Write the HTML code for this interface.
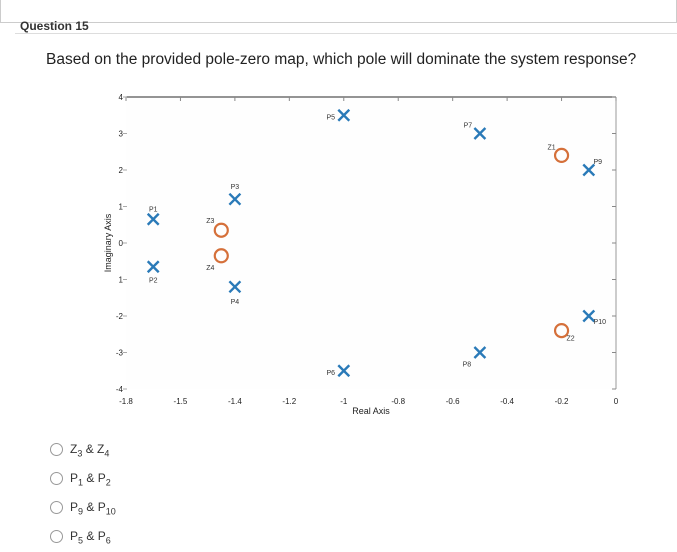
<!DOCTYPE html>
<html><head><meta charset="utf-8"><style>
body{margin:0;width:677px;height:552px;background:#fff;font-family:"Liberation Sans",sans-serif;position:relative;overflow:hidden}
.abs{position:absolute}
.opt{position:absolute;left:50px;font-size:12px;color:#333}
.opt .r{display:inline-block;width:11px;height:11px;border:1px solid #999;border-radius:50%;vertical-align:middle;margin-right:7px}
sub{font-size:9px}
</style></head><body>
<div class="abs" style="left:0;top:-2px;width:675px;height:24px;border:1px solid #ccc;border-top:none"></div>
<div class="abs" style="left:20px;top:19px;font-size:12px;font-weight:bold;color:#333">Question 15</div>
<div class="abs" style="left:15px;top:33px;width:662px;border-top:1px solid #ddd"></div>
<div class="abs" style="left:46px;top:51px;font-size:15.5px;color:#222">Based on the provided pole-zero map, which pole will dominate the system response?</div>
<svg class="abs" style="left:0;top:0" width="677" height="430" id="chart"></svg>
<div class="opt" style="top:442px"><span class="r"></span>Z<sub>3</sub> &amp; Z<sub>4</sub></div>
<div class="opt" style="top:471px"><span class="r"></span>P<sub>1</sub> &amp; P<sub>2</sub></div>
<div class="opt" style="top:500px"><span class="r"></span>P<sub>9</sub> &amp; P<sub>10</sub></div>
<div class="opt" style="top:529px"><span class="r"></span>P<sub>5</sub> &amp; P<sub>6</sub></div>
<script>
const xTicks=[-1.8,-1.6,-1.4,-1.2,-1,-0.8,-0.6,-0.4,-0.2,0];
const xTickLabels=["-1.8","-1.5","-1.4","-1.2","-1","-0.8","-0.6","-0.4","-0.2","0"];
const yTicks=[4,3,2,1,0,-1,-2,-3,-4];
const yTickLabels=["4","3","2","1","0","1","-2","-3","-4"];
const poleNames=["P1","P2","P3","P4","P5","P6","P7","P8","P9","P10"];
const poleRe=[-1.7,-1.7,-1.4,-1.4,-1,-1,-0.5,-0.5,-0.1,-0.1];
const poleIm=[0.65,-0.65,1.2,-1.2,3.5,-3.5,3,-3,2,-2];
const zeroNames=["Z1","Z2","Z3","Z4"];
const zeroRe=[-0.2,-0.2,-1.45,-1.45];
const zeroIm=[2.4,-2.4,0.35,-0.35];
const X=v=>126+(v+1.8)/1.8*490;
const Y=v=>243-v*36.5;
const svg=document.getElementById('chart');
const NS='http://www.w3.org/2000/svg';
function mk(t,a){const e=document.createElementNS(NS,t);for(const k in a)e.setAttribute(k,a[k]);svg.appendChild(e);return e;}
let e=mk('rect',{x:X(-1.8),y:Y(4),width:X(0)-X(-1.8),height:Y(-4)-Y(4),fill:'#fefefe'});

e=mk('line',{x1:X(-1.8),x2:X(0),y1:Y(4),y2:Y(4),stroke:'#555','stroke-width':1.2});

e=mk('line',{x1:X(0),x2:X(0),y1:Y(4),y2:Y(-4),stroke:'#999','stroke-width':1});

xTicks.forEach((v,i)=>{
 mk('line',{x1:X(v),x2:X(v),y1:Y(4),y2:Y(4)+4,stroke:'#888'});
 const t=mk('text',{x:X(v),y:404,'font-size':8,'text-anchor':'middle',fill:'#222'});t.textContent=xTickLabels[i];
 
});
yTicks.forEach((v,i)=>{
 mk('line',{x1:X(0),x2:X(0)-4,y1:Y(v),y2:Y(v),stroke:'#888'});
 mk('line',{x1:X(-1.8)-3,x2:X(-1.8)+1,y1:Y(v),y2:Y(v),stroke:'#aaa'});
 const t=mk('text',{x:123,y:Y(v)+3,'font-size':8,'text-anchor':'end',fill:'#222'});t.textContent=yTickLabels[i];
 
});
e=mk('text',{x:X(-0.9),y:414,'font-size':9,'text-anchor':'middle',fill:'#222'});e.textContent='Real Axis';

e=mk('text',{x:0,y:0,'font-size':9,'text-anchor':'middle',fill:'#222',transform:`translate(111,${Y(0)}) rotate(-90)`});e.textContent='Imaginary Axis';

const poleLabelOff={P1:[0,-8],P2:[0,16],P3:[0,-10],P4:[0,17],P5:[-13,4],P6:[-13,4],P7:[-12,-6],P8:[-13,14],P9:[9,-6],P10:[11,8]};
poleNames.forEach((n,i)=>{
 const x=X(poleRe[i]),y=Y(poleIm[i]),s=5.5;
 const g=document.createElementNS(NS,'g');svg.appendChild(g);
 
 
 g.innerHTML=`<path d="M${x-s} ${y-s}L${x+s} ${y+s}M${x+s} ${y-s}L${x-s} ${y+s}" stroke="#2a7ab8" stroke-width="2.4"/>`;
 const o=poleLabelOff[n];
 const t=mk('text',{x:x+o[0],y:y+o[1],'font-size':7,'text-anchor':'middle',fill:'#333'});t.textContent=n;
 
});
const zeroLabelOff={Z1:[-10,-6],Z2:[9,10],Z3:[-11,-7],Z4:[-11,14]};
zeroNames.forEach((n,i)=>{
 const x=X(zeroRe[i]),y=Y(zeroIm[i]);
 const c=mk('circle',{cx:x,cy:y,r:6.5,fill:'none',stroke:'#d5703a','stroke-width':2.2});
 
 const o=zeroLabelOff[n];
 const t=mk('text',{x:x+o[0],y:y+o[1],'font-size':7,'text-anchor':'middle',fill:'#333'});t.textContent=n;
 
});
</script>
</body></html>
